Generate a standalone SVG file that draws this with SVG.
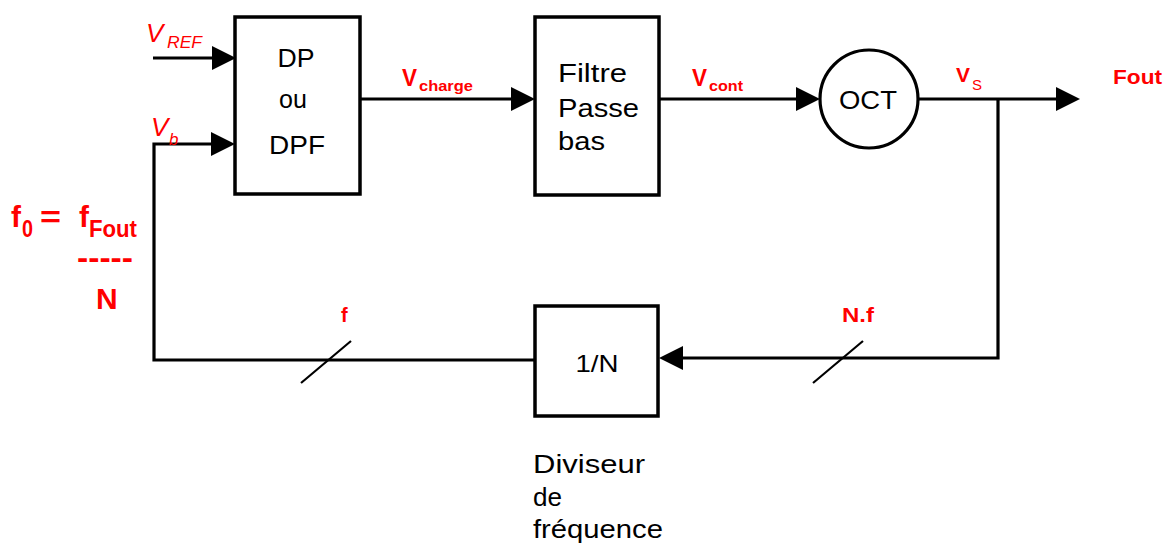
<svg xmlns="http://www.w3.org/2000/svg" width="1166" height="544" viewBox="0 0 1166 544">
<style>
.box{fill:#fff;stroke:#000;stroke-width:3.5}
.wire{fill:none;stroke:#000;stroke-width:3.2}
.slash{fill:none;stroke:#000;stroke-width:2.2}
.blk{font-family:"Liberation Sans",Arial,sans-serif;fill:#000}
.red{font-family:"Liberation Sans",Arial,sans-serif;fill:#f00;font-weight:bold}
.redi{font-family:"Liberation Sans",Arial,sans-serif;fill:#f00;font-style:italic}
</style>
<defs>
<marker id="arr" markerUnits="userSpaceOnUse" markerWidth="24" markerHeight="24" refX="0" refY="12" orient="auto" overflow="visible">
<path d="M0,0 L24,12 L0,24 Z" fill="#000"/>
</marker>
</defs>
<rect width="1166" height="544" fill="#fff"/>
<g id="connectors">
<path class="wire" d="M153,58 H212" marker-end="url(#arr)"/>
<path class="wire" d="M536,360 H154 V144 H211" marker-end="url(#arr)"/>
<path class="wire" d="M360,99 H511" marker-end="url(#arr)"/>
<path class="wire" d="M659,99 H796" marker-end="url(#arr)"/>
<path class="wire" d="M918,99 H1056" marker-end="url(#arr)"/>
<path class="wire" d="M998,99 V358 H683" marker-end="url(#arr)"/>
<line class="slash" x1="301" y1="383" x2="351" y2="341"/>
<line class="slash" x1="813" y1="383" x2="863" y2="341"/>
</g>
<g id="node-dp">
<rect class="box" x="235" y="17" width="125" height="177"/>
<text class="blk" x="296" y="67" font-size="25" text-anchor="middle" textLength="37" lengthAdjust="spacingAndGlyphs">DP</text>
<text class="blk" x="293" y="108" font-size="25" text-anchor="middle">ou</text>
<text class="blk" x="297" y="154" font-size="25" text-anchor="middle" textLength="56" lengthAdjust="spacingAndGlyphs">DPF</text>
</g>
<g id="node-filtre">
<rect class="box" x="535" y="17" width="124" height="178"/>
<text class="blk" x="558" y="82" font-size="26" textLength="69" lengthAdjust="spacingAndGlyphs">Filtre</text>
<text class="blk" x="558" y="117" font-size="26" textLength="81" lengthAdjust="spacingAndGlyphs">Passe</text>
<text class="blk" x="558" y="150" font-size="26" textLength="47" lengthAdjust="spacingAndGlyphs">bas</text>
</g>
<g id="node-oct">
<circle cx="869" cy="99" r="49" fill="#fff" stroke="#000" stroke-width="3.2"/>
<text class="blk" x="868" y="109" font-size="25" text-anchor="middle" textLength="58" lengthAdjust="spacingAndGlyphs">OCT</text>
</g>
<g id="node-div">
<rect class="box" x="535" y="306" width="123" height="110"/>
<text class="blk" x="597" y="372" text-anchor="middle" font-size="24" textLength="43" lengthAdjust="spacingAndGlyphs">1/N</text>
<text class="blk" x="533" y="473" font-size="26" textLength="112" lengthAdjust="spacingAndGlyphs">Diviseur</text>
<text class="blk" x="533" y="506" font-size="26" textLength="29" lengthAdjust="spacingAndGlyphs">de</text>
<text class="blk" x="533" y="538" font-size="26" textLength="130" lengthAdjust="spacingAndGlyphs">fréquence</text>
</g>
<g id="labels">
<text class="redi" x="146" y="42" font-size="26">V</text>
<text class="redi" x="167" y="48" font-size="16" textLength="35" lengthAdjust="spacingAndGlyphs">REF</text>
<text class="redi" x="151" y="136" font-size="26">V</text>
<text class="redi" x="169" y="145" font-size="17">b</text>
<text class="red" x="402" y="86" font-size="23" textLength="15" lengthAdjust="spacingAndGlyphs">V</text>
<text class="red" x="419" y="91" font-size="15" textLength="54" lengthAdjust="spacingAndGlyphs">charge</text>
<text class="red" x="692" y="86" font-size="23" textLength="15" lengthAdjust="spacingAndGlyphs">V</text>
<text class="red" x="709" y="91" font-size="15" textLength="34" lengthAdjust="spacingAndGlyphs">cont</text>
<text class="red" x="956" y="82" font-size="20" textLength="14" lengthAdjust="spacingAndGlyphs">V</text>
<text class="red" x="972" y="90" font-size="15" style="font-weight:normal">S</text>
<text class="red" x="1113" y="84" font-size="20" textLength="49" lengthAdjust="spacingAndGlyphs">Fout</text>
<text class="red" x="341" y="322" font-size="20">f</text>
<text class="red" x="842" y="322" font-size="20" textLength="32" lengthAdjust="spacingAndGlyphs">N.f</text>
<text class="red" x="11" y="227" font-size="30">f</text>
<text class="red" x="22" y="237" font-size="24" textLength="11" lengthAdjust="spacingAndGlyphs">0</text>
<text class="red" x="40" y="227" font-size="30" textLength="21" lengthAdjust="spacingAndGlyphs">=</text>
<text class="red" x="79" y="227" font-size="30">f</text>
<text class="red" x="89" y="237" font-size="24" textLength="48" lengthAdjust="spacingAndGlyphs">Fout</text>
<text class="red" x="77" y="268" font-size="32" textLength="56" lengthAdjust="spacingAndGlyphs">-----</text>
<text class="red" x="96" y="309" font-size="30">N</text>
</g>
</svg>
